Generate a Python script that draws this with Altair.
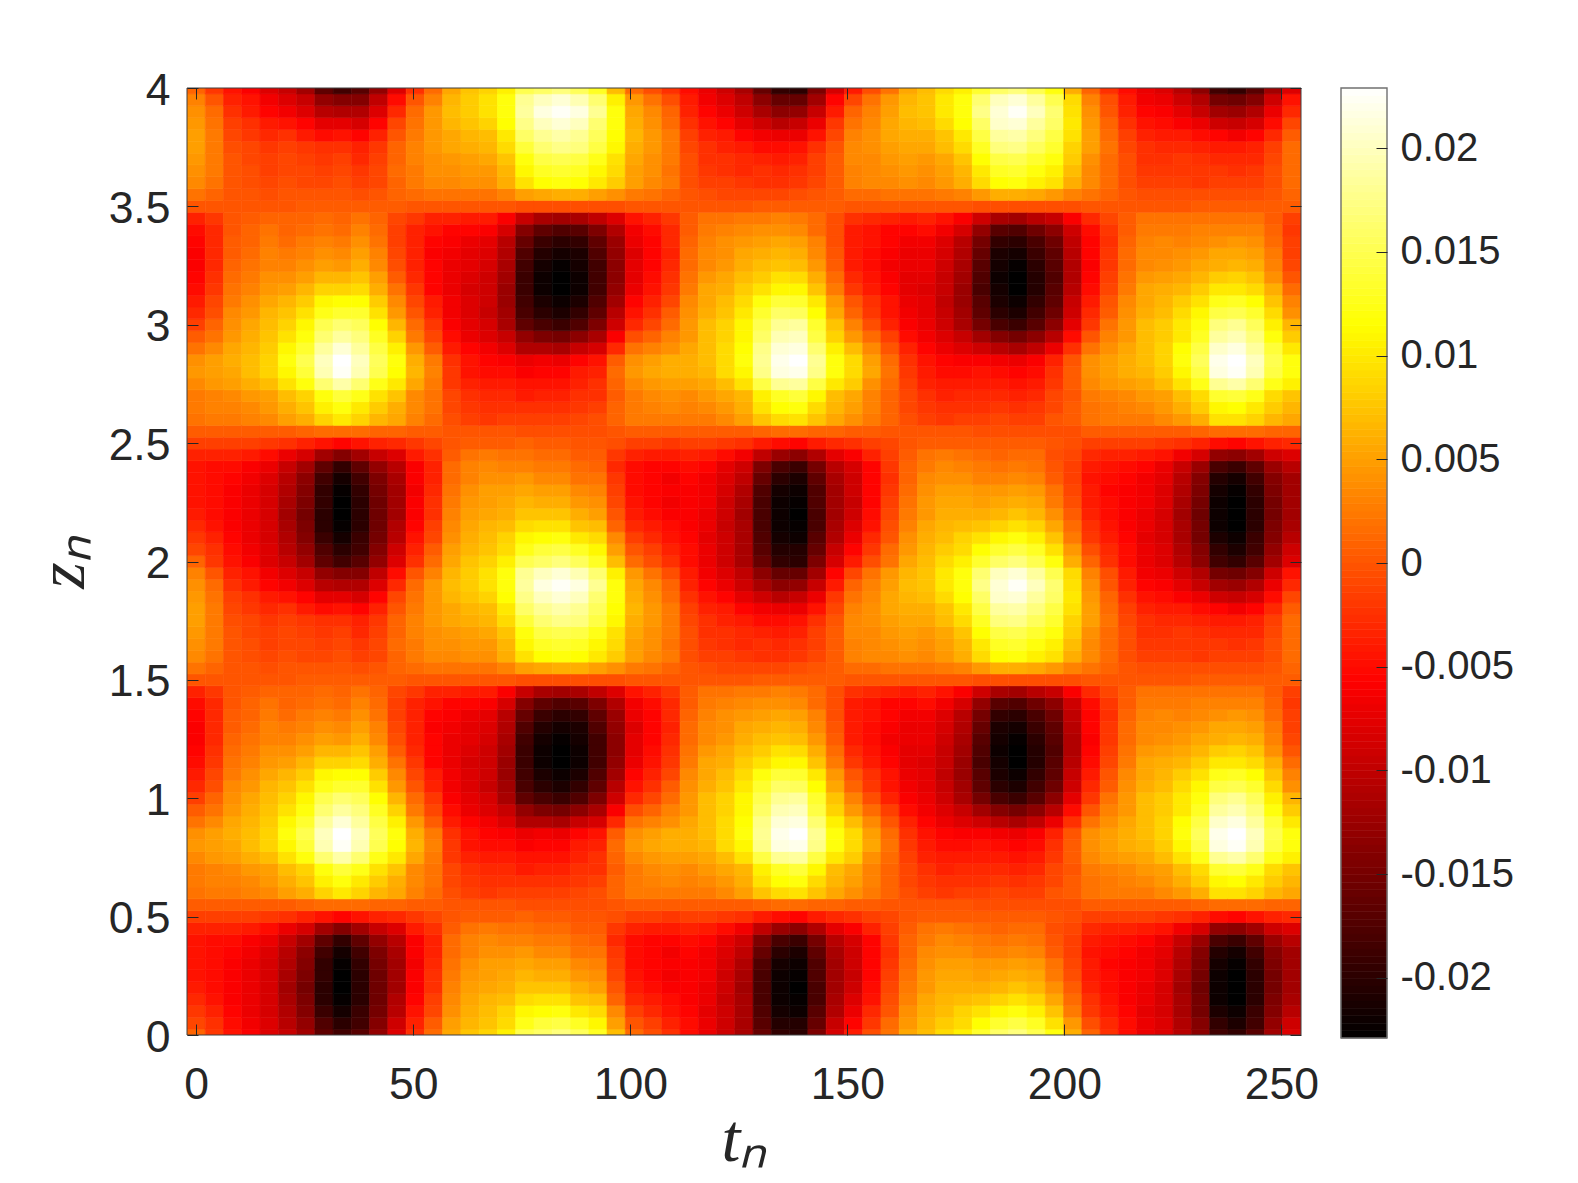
import altair as alt, pandas as pd, numpy as np
alt.data_transformers.disable_max_rows()
# Field, in units of 0.0005. One list per t column,
# each holding z = 0, 0.05, ... 1.95. The picture repeats with period 2 in z.
columns = [
[2,-2,-4,-6,-8,-9,-9,-9,-9,-7,-3,1,4,5,5,7,9,8,4,1,-3,-6,-8,-10,-11,-12,-12,-11,-10,-7,0,4,7,8,9,10,10,9,8,6],
[-4,-5,-7,-9,-10,-10,-10,-10,-10,-7,-3,1,5,6,6,9,10,10,7,4,2,-1,-2,-4,-5,-6,-6,-6,-6,-4,0,2,4,5,5,5,5,4,3,0],
[-9,-10,-11,-12,-12,-12,-12,-11,-10,-7,-3,1,5,6,7,10,11,12,11,9,8,7,5,4,3,2,1,1,0,0,0,0,0,0,0,-1,-2,-3,-5,-7],
[-12,-13,-14,-14,-14,-14,-14,-13,-12,-8,-3,1,6,7,9,12,14,14,13,12,11,9,8,6,5,4,3,2,2,1,0,0,-1,-1,-2,-2,-4,-5,-8,-9],
[-16,-16,-17,-17,-17,-17,-17,-16,-14,-10,-4,1,7,9,10,14,17,17,16,15,14,13,11,9,8,6,6,5,4,2,0,-1,-2,-3,-3,-4,-6,-8,-11,-13],
[-19,-21,-22,-23,-24,-23,-22,-21,-19,-14,-5,1,10,12,14,19,22,24,22,19,17,15,13,10,8,6,5,3,2,2,0,0,-1,-2,-2,-3,-5,-9,-13,-16],
[-24,-26,-28,-29,-30,-29,-28,-27,-24,-17,-7,2,12,15,17,24,28,30,27,24,22,19,16,13,10,8,6,5,3,2,1,0,-2,-2,-3,-4,-8,-11,-16,-19],
[-33,-35,-38,-40,-40,-39,-39,-37,-33,-24,-9,3,17,21,24,33,39,40,37,33,30,25,22,17,13,10,8,6,4,3,1,0,-2,-3,-4,-5,-10,-15,-21,-26],
[-37,-40,-43,-45,-46,-46,-45,-43,-39,-28,-11,3,20,24,28,38,45,46,42,37,33,27,23,17,13,9,7,5,3,2,1,0,-1,-2,-3,-5,-9,-15,-22,-28],
[-34,-37,-38,-40,-40,-40,-39,-37,-33,-24,-9,3,17,20,25,33,39,40,37,34,31,27,23,18,15,12,10,8,6,4,1,-1,-3,-4,-6,-7,-11,-17,-22,-28],
[-26,-28,-30,-31,-31,-31,-30,-29,-26,-19,-7,2,13,16,19,25,30,31,29,26,23,19,16,12,10,7,6,4,3,2,1,0,-2,-2,-3,-4,-7,-11,-16,-20],
[-16,-18,-21,-22,-24,-24,-24,-23,-21,-16,-6,2,11,12,15,20,23,24,21,17,13,9,7,4,1,-1,-2,-3,-3,-2,1,2,2,3,2,2,0,-2,-6,-10],
[-5,-7,-9,-11,-12,-12,-13,-12,-12,-8,-4,1,6,7,7,11,13,12,9,5,3,0,-2,-4,-6,-7,-7,-7,-7,-4,0,3,5,5,6,6,5,4,3,0],
[3,1,-2,-3,-5,-5,-6,-7,-7,-5,-2,1,3,4,4,5,6,5,1,-2,-4,-7,-8,-11,-11,-11,-12,-11,-9,-7,0,4,7,8,8,9,9,9,9,6],
[11,10,8,7,6,5,4,3,3,1,0,0,-1,-2,-2,-4,-4,-5,-8,-10,-12,-13,-13,-14,-14,-14,-13,-12,-11,-7,0,4,7,8,9,11,11,13,14,13],
[15,13,12,11,10,9,8,6,6,4,1,0,-3,-4,-5,-7,-9,-9,-11,-14,-15,-16,-16,-17,-16,-15,-15,-14,-11,-8,0,4,8,9,10,12,13,15,16,16],
[17,15,14,13,11,10,10,8,7,5,1,0,-4,-5,-6,-8,-10,-11,-13,-16,-17,-19,-18,-18,-18,-17,-16,-15,-12,-8,0,4,8,9,11,13,14,17,19,19],
[21,18,17,14,12,11,10,8,6,4,1,0,-3,-5,-6,-8,-10,-12,-16,-19,-23,-24,-25,-25,-24,-23,-22,-21,-17,-12,0,6,12,13,15,18,20,23,24,24],
[30,25,22,18,15,13,11,9,6,4,2,-1,-3,-5,-8,-9,-12,-14,-22,-26,-33,-36,-37,-38,-38,-37,-35,-32,-28,-19,-1,10,19,22,24,28,32,35,37,36],
[32,28,23,19,15,12,10,7,5,3,1,-1,-3,-5,-7,-9,-11,-13,-22,-29,-36,-40,-42,-44,-44,-43,-41,-38,-33,-23,-1,11,23,26,29,33,36,40,43,40],
[34,29,24,19,15,12,10,7,5,3,1,-1,-3,-5,-7,-9,-11,-14,-23,-30,-38,-42,-44,-46,-46,-45,-43,-40,-35,-24,-1,12,24,27,30,35,38,42,45,42],
[31,26,20,15,12,9,7,4,3,1,0,-1,-2,-4,-5,-7,-8,-11,-19,-27,-35,-39,-42,-44,-44,-43,-42,-39,-34,-23,-1,12,23,26,29,34,36,40,43,39],
[26,22,18,14,10,8,6,4,2,1,0,-1,-1,-3,-5,-5,-7,-9,-17,-23,-29,-33,-35,-37,-37,-37,-35,-33,-29,-20,-1,10,20,22,25,29,31,33,36,33],
[14,10,7,2,0,-2,-3,-4,-6,-4,-1,0,2,2,1,2,3,1,-6,-12,-18,-21,-24,-26,-27,-27,-26,-25,-22,-16,-1,8,16,18,19,22,23,24,24,21],
[3,0,-3,-6,-8,-9,-10,-10,-10,-7,-3,1,5,5,5,7,9,8,4,-1,-6,-9,-11,-14,-15,-15,-16,-14,-13,-9,0,5,10,10,11,12,13,12,11,9],
[-1,-3,-6,-8,-10,-11,-11,-11,-11,-8,-3,1,5,6,7,9,11,10,6,2,-2,-5,-7,-9,-10,-11,-11,-11,-10,-7,0,4,7,8,8,9,9,8,7,4],
[-5,-7,-9,-10,-12,-13,-12,-13,-11,-8,-4,1,5,7,8,10,12,12,8,6,3,1,-2,-4,-5,-6,-7,-6,-6,-4,0,2,5,4,5,5,5,3,2,-1],
[-10,-10,-11,-12,-12,-12,-12,-11,-10,-7,-3,1,5,6,7,10,12,12,11,9,9,8,7,5,4,3,3,2,1,1,0,0,-1,-1,-1,-2,-3,-5,-7,-8],
[-14,-14,-15,-14,-14,-13,-13,-13,-11,-8,-3,1,5,7,9,11,13,14,14,14,14,12,11,11,9,7,7,6,5,4,0,-1,-3,-4,-5,-5,-7,-9,-11,-13],
[-18,-18,-18,-19,-18,-18,-17,-16,-15,-10,-4,1,7,9,11,14,18,18,18,17,17,15,14,12,11,9,8,8,6,4,0,-2,-3,-5,-5,-7,-8,-11,-14,-16],
[-23,-23,-23,-23,-24,-23,-22,-20,-18,-13,-5,1,10,12,13,19,22,24,23,22,22,20,18,16,14,12,11,9,7,5,0,-2,-4,-6,-6,-8,-11,-15,-18,-20],
[-32,-34,-35,-36,-36,-36,-35,-32,-29,-20,-8,2,15,19,21,29,35,36,35,32,30,27,24,19,16,14,12,10,8,5,1,-2,-5,-5,-7,-10,-13,-18,-23,-27],
[-39,-41,-43,-44,-44,-44,-43,-40,-36,-25,-10,3,18,23,26,36,43,44,42,39,36,32,28,22,19,15,13,11,8,6,1,-2,-5,-6,-8,-10,-14,-21,-27,-32],
[-40,-41,-44,-45,-46,-45,-44,-42,-38,-27,-11,3,19,24,28,37,44,46,43,40,37,31,27,22,18,14,12,10,7,5,1,-1,-4,-5,-7,-9,-14,-19,-26,-32],
[-29,-32,-34,-36,-36,-35,-35,-33,-30,-22,-8,2,15,18,22,29,35,36,33,29,27,23,20,15,12,9,7,6,3,3,1,0,-2,-3,-3,-5,-9,-14,-19,-24],
[-17,-19,-22,-23,-24,-24,-24,-23,-21,-15,-6,2,11,13,14,20,24,24,21,17,15,11,9,5,3,1,0,-1,-1,-1,1,1,1,1,1,0,-2,-4,-8,-11],
[-8,-11,-14,-16,-18,-19,-18,-18,-17,-12,-5,1,8,10,11,16,18,18,14,9,6,2,0,-4,-6,-8,-8,-8,-8,-5,0,3,6,6,7,7,6,4,2,-2],
[-1,-4,-6,-9,-10,-11,-11,-11,-11,-7,-3,1,5,6,6,8,11,10,7,3,-1,-4,-5,-8,-9,-10,-10,-9,-9,-6,0,3,7,7,7,8,8,7,6,4],
[4,3,0,-1,-2,-3,-4,-5,-4,-3,-2,0,2,2,2,3,4,3,0,-3,-7,-9,-9,-11,-12,-13,-12,-11,-11,-7,0,4,7,8,9,10,11,11,10,9],
[11,9,8,6,5,4,3,2,2,1,0,0,-1,-2,-2,-3,-4,-5,-7,-10,-12,-13,-14,-15,-15,-14,-14,-13,-11,-8,0,4,8,9,10,11,12,13,14,13],
[14,13,12,11,9,9,8,7,5,4,1,0,-3,-4,-5,-7,-8,-9,-11,-13,-14,-15,-15,-16,-15,-14,-14,-13,-10,-7,0,4,7,8,9,11,12,14,15,15],
[18,16,14,13,12,11,10,8,7,5,1,0,-4,-5,-7,-8,-10,-11,-14,-16,-18,-19,-20,-19,-19,-18,-17,-16,-13,-9,0,5,9,10,11,14,15,18,20,20],
[21,18,17,14,12,11,10,8,6,4,1,0,-3,-5,-6,-8,-10,-12,-16,-19,-23,-24,-25,-25,-24,-23,-22,-21,-17,-12,0,6,12,13,15,18,20,23,24,24],
[27,23,19,15,12,10,9,6,5,3,1,-1,-3,-5,-6,-8,-9,-12,-18,-24,-30,-33,-34,-36,-35,-34,-32,-30,-26,-18,-1,9,18,20,23,26,29,32,35,33],
[32,27,22,17,13,11,9,6,4,2,1,-1,-2,-4,-6,-8,-10,-13,-21,-28,-36,-40,-42,-43,-44,-43,-42,-39,-34,-23,-1,12,23,26,29,34,37,41,42,40],
[34,29,24,19,15,12,10,7,5,3,1,-1,-3,-5,-7,-9,-11,-14,-23,-30,-38,-42,-44,-46,-46,-45,-43,-40,-35,-24,-1,12,24,27,30,35,38,42,45,42],
[30,26,21,17,13,11,9,6,4,3,1,-1,-3,-4,-6,-8,-10,-12,-20,-27,-34,-37,-39,-41,-41,-40,-38,-36,-31,-21,-1,11,21,24,27,31,34,37,40,37],
[24,19,15,11,8,5,4,1,0,-1,0,-1,0,-2,-2,-4,-5,-7,-14,-21,-27,-31,-33,-34,-35,-34,-33,-31,-27,-19,-1,9,19,21,24,27,29,32,33,30],
[12,9,5,3,1,-1,-2,-3,-3,-2,-1,-1,1,1,0,1,1,0,-5,-10,-15,-18,-19,-21,-22,-22,-21,-20,-18,-12,-1,6,12,14,16,17,19,20,19,18],
[2,-1,-4,-5,-7,-8,-8,-9,-8,-6,-3,1,4,4,5,7,8,8,4,0,-4,-6,-8,-10,-11,-12,-11,-11,-10,-6,0,4,7,7,8,10,10,9,8,6],
[-5,-6,-8,-9,-10,-10,-11,-10,-9,-7,-3,1,5,5,6,9,10,10,8,6,4,1,0,-2,-3,-4,-4,-5,-4,-2,0,2,3,3,3,4,3,2,0,-1],
[-10,-10,-11,-12,-12,-12,-12,-11,-10,-7,-3,1,5,6,7,10,12,12,11,9,9,8,7,5,4,3,3,2,1,1,0,0,-1,-1,-1,-2,-3,-5,-7,-8],
[-14,-14,-15,-14,-14,-13,-13,-13,-11,-8,-3,1,5,7,9,11,13,14,14,14,14,12,11,11,9,7,7,6,5,4,0,-1,-3,-4,-5,-5,-7,-9,-11,-13],
[-16,-16,-17,-17,-17,-16,-16,-15,-14,-9,-4,1,7,9,10,14,16,17,17,16,16,14,13,12,10,8,7,7,5,4,0,-1,-3,-4,-5,-6,-8,-10,-12,-14],
[-21,-22,-23,-23,-24,-23,-22,-21,-19,-13,-5,1,9,12,14,19,22,24,23,20,20,18,16,13,11,9,8,6,5,4,0,-1,-3,-4,-4,-6,-8,-12,-15,-18],
[-27,-28,-30,-30,-31,-30,-29,-28,-25,-17,-7,2,12,16,18,25,29,31,29,26,24,22,19,16,13,11,9,7,6,4,1,-1,-4,-4,-5,-7,-10,-14,-19,-22],
[-37,-39,-42,-44,-44,-44,-43,-41,-36,-26,-10,3,19,22,27,36,43,44,41,37,34,29,25,20,16,12,11,8,6,4,1,-1,-3,-4,-6,-8,-11,-18,-24,-30],
[-39,-42,-44,-46,-46,-46,-45,-43,-38,-27,-11,3,19,23,28,38,45,46,43,39,36,30,26,20,17,13,11,9,6,4,1,-1,-3,-5,-6,-8,-13,-19,-25,-31],
[-34,-37,-38,-40,-40,-40,-39,-37,-33,-24,-9,3,17,20,25,33,39,40,37,34,31,27,23,18,15,12,10,8,6,4,1,-1,-3,-4,-6,-7,-11,-17,-22,-28],
[-24,-26,-28,-29,-30,-30,-29,-28,-25,-18,-7,2,13,16,18,25,29,30,28,24,21,18,15,12,8,6,5,3,2,1,1,0,-1,-1,-2,-3,-6,-10,-14,-18],
[-16,-18,-21,-23,-24,-24,-24,-24,-21,-16,-6,2,11,13,15,21,24,24,20,16,13,8,6,3,0,-2,-3,-3,-4,-3,1,2,3,3,3,3,1,-2,-6,-9],
]
x_ticks = [0,50,100,150,200,250]
y_ticks = [0,0.5,1,1.5,2,2.5,3,3.5,4]
bar_ticks = [-0.02,-0.015,-0.01,-0.005,0,0.005,0.01,0.015,0.02]
dt, dz, unit = 4.2066, 0.05, 0.0005
x_dom, y_dom, c_dom = [-dt/2,60.5*dt], [0,4], [-0.0229,0.0229]
def hot(v):
    f=min(max((v-c_dom[0])/(c_dom[1]-c_dom[0]),0),1)
    r=min(f/.375,1); g=min(max((f-.375)/.375,0),1); b=min(max((f-.75)/.25,0),1)
    return "#%02x%02x%02x"%(round(r*255),round(g*255),round(b*255))
rows=[]
for c,col in enumerate(columns):
    for k in range(81):
        z=k*dz
        v=col[k%40]*unit
        rows.append(dict(t0=c*dt-dt/2,t1=c*dt+dt/2,z0=max(z-dz/2,0),z1=min(z+dz/2,4),v=v,c=hot(v)))
df=pd.DataFrame(rows)
TXT="#262626"
xs=alt.Scale(domain=x_dom,nice=False,zero=False)
ys=alt.Scale(domain=y_dom,nice=False,zero=False)
ax=dict(domain=False,grid=False,tickSize=11,tickColor=TXT,tickWidth=1,labelFont="Liberation Sans",labelFontSize=44.5,labelColor=TXT,labelExpr="datum.value+''",offset=-11,labelFlush=False,labelOverlap=False,zindex=1)
title_style=dict(titleFont="Liberation Serif",titleFontStyle="italic",titleFontWeight="normal",titleFontSize=68,titleColor=TXT)
heat=alt.Chart(df).mark_rect(clip=True,strokeWidth=0.6).encode(
 x=alt.X("t0:Q",scale=xs,axis=alt.Axis(orient="bottom",values=x_ticks,title="tₙ",titlePadding=0,labelPadding=28,**title_style,**ax)),
 x2="t1:Q",
 y=alt.Y("z0:Q",scale=ys,axis=alt.Axis(orient="left",values=y_ticks,title="zₙ",titlePadding=11,labelPadding=17,labelOffset=3,**title_style,**ax)),
 y2="z1:Q",
 color=alt.Color("c:N",scale=None),
 stroke=alt.Stroke("c:N",scale=None))
ax2=dict(ax); ax2.update(labels=False,title=None)
frame_df=pd.DataFrame({"a":[x_dom[0]],"a2":[x_dom[1]],"b":[y_dom[0]],"b2":[y_dom[1]]})
frame=alt.Chart(frame_df).mark_rect(filled=False,stroke="#404040",strokeWidth=1).encode(
 x=alt.X("a:Q",scale=xs,axis=alt.Axis(orient="top",values=x_ticks,**ax2)),x2="a2:Q",
 y=alt.Y("b:Q",scale=ys,axis=alt.Axis(orient="right",values=y_ticks,**ax2)),y2="b2:Q")
main=alt.layer(heat,frame).resolve_axis(x="independent",y="independent").properties(width=1114,height=947)
lev=np.linspace(c_dom[0],c_dom[1],129)
cdf=pd.DataFrame({"y0":lev[:-1],"y1":lev[1:],"c":[hot(v) for v in (lev[:-1]+lev[1:])/2]})
cs=alt.Scale(domain=c_dom,nice=False,zero=False)
cb_axis=alt.Axis(orient="right",values=bar_ticks,title=None,domain=False,grid=False,tickSize=11,tickColor=TXT,labelFont="Liberation Sans",labelFontSize=40,labelColor=TXT,labelExpr="datum.value+''",offset=-11,labelPadding=13,labelOverlap=False,zindex=1)
cb_rect=alt.Chart(cdf).mark_rect(strokeWidth=0.6).encode(
 x=alt.value(0),x2=alt.value(46),
 y=alt.Y("y0:Q",scale=cs,axis=cb_axis),
 y2="y1:Q",color=alt.Color("c:N",scale=None),stroke=alt.Stroke("c:N",scale=None))
cb_frame=alt.Chart(pd.DataFrame({"b":[c_dom[0]],"b2":[c_dom[1]]})).mark_rect(filled=False,stroke="#707070",strokeWidth=1.4).encode(
 x=alt.value(0),x2=alt.value(46),y=alt.Y("b:Q",scale=cs,axis=cb_axis),y2="b2:Q")
cb=alt.layer(cb_rect,cb_frame).properties(width=46,height=950)
chart=alt.hconcat(main,cb,spacing=40,bounds="flush").properties(
 autosize=alt.AutoSizeParams(type="none"),padding={"left":179,"top":80,"right":1374,"bottom":1095},background="white"
).configure_view(strokeWidth=0)
chart.save("out.html",embed_options={"renderer":"svg","actions":False})
